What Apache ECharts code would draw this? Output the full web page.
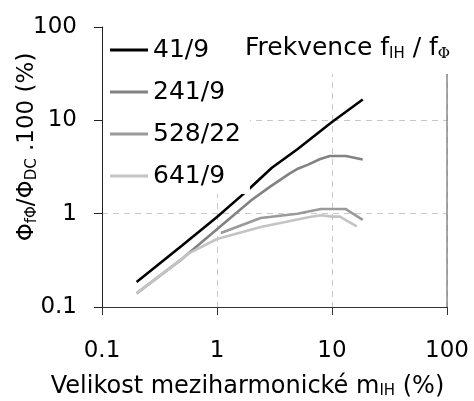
<!DOCTYPE html>
<html>
<head>
<meta charset="utf-8">
<script src="https://cdn.jsdelivr.net/npm/echarts@6/dist/echarts.min.js"></script>
<style>
  html, body { margin: 0; padding: 0; background: #fff; }
  #chart { width: 474px; height: 401px; }
</style>
</head>
<body>
<div id="chart"></div>
<script>
// Interharmonic flux ratio versus interharmonic magnitude (log-log)
const seriesNames = ['41/9', '241/9', '528/22', '641/9'];
const seriesColors = ['#000000', '#828282', '#9a9a9a', '#c4c4c4'];

// m_IH (%) and flux ratio (%) for each frequency ratio
const x41 = [0.2, 0.5, 1, 1.74, 1.93, 3, 5, 10, 18.5];
const y41 = [0.185, 0.46, 0.92, 1.67, 1.87, 3.1, 4.9, 9.6, 16.7];

const x241 = [0.2, 0.5, 1, 2, 2.9, 4.3, 5.1, 6.2, 7.9, 9.6, 13.2, 18.5];
const y241 = [0.14, 0.33, 0.68, 1.4, 1.95, 2.7, 3.05, 3.35, 3.85, 4.15, 4.15, 3.8];

const x528 = [1.08, 2.4, 5, 8, 13.2, 18.5];
const y528 = [0.62, 0.9, 1.0, 1.12, 1.12, 0.86];

const x641 = [0.2, 0.58, 1, 2.4, 6.4, 8, 10, 11.7, 16.4];
const y641 = [0.14, 0.38, 0.535, 0.72, 0.92, 0.96, 0.93, 0.93, 0.73];

const axisTicks = [0.1, 1, 10, 100];

const FONT = 'DejaVu Sans, sans-serif';
const zip = (xs, ys) => xs.map((x, i) => [x, ys[i]]);
const allX = [x41, x241, x528, x641];
const allY = [y41, y241, y528, y641];

const fmt = v => (v < 1 ? Number(v).toFixed(1) : String(Math.round(v)));

const chart = echarts.init(document.getElementById('chart'), null, { renderer: 'canvas' });

chart.setOption({
  animation: false,
  backgroundColor: '#fff',
  textStyle: { fontFamily: FONT },
  grid: { left: 102, right: 27, top: 27, bottom: 94, containLabel: false, outerBoundsMode: 'none' },
  title: {
    left: 245,
    top: 35,
    padding: 0,
    text: '{a|Frekvence f}{s|IH}{a| / f}{p|Φ}',
    textStyle: {
      fontWeight: 'normal',
      rich: {
        a: { fontSize: 25, fontFamily: FONT, color: '#000', fontWeight: 'normal' },
        s: { fontSize: 15, fontFamily: FONT, color: '#000', fontWeight: 'normal', padding: [12, 0, 0, 0] },
        p: { fontSize: 15, fontFamily: 'DejaVu Serif, serif', color: '#000', fontWeight: 'normal', padding: [12, 0, 0, 0] }
      }
    }
  },
  // white legend box sits over the upper-left corner of the plot
  legend: {
    orient: 'vertical',
    left: 103,
    top: 37,
    padding: [0, 9, 5, 7],
    icon: 'rect',
    itemWidth: 38,
    itemHeight: 3,
    itemGap: 16,
    backgroundColor: '#fff',
    textStyle: { fontSize: 25, fontFamily: FONT, color: '#000', lineHeight: 26 },
    data: seriesNames
  },
  graphic: [{
    type: 'rect',
    z: 1,
    shape: { x: 103.5, y: 0, width: 371, height: 74 },
    style: { fill: '#fff' }
  }],
  xAxis: {
    type: 'log',
    logBase: 10,
    min: axisTicks[0],
    max: axisTicks[axisTicks.length - 1],
    axisLine: { lineStyle: { color: '#333', width: 1 } },
    axisTick: { inside: false, length: 8, lineStyle: { color: '#333' } },
    axisLabel: { fontSize: 23, fontFamily: FONT, color: '#000', margin: 33, formatter: fmt },
    splitLine: { show: true, lineStyle: { color: '#c8c8c8', type: [6, 5], width: 1 } },
    name: '{a|Velikost meziharmonické m}{s|IH}{a| (%)}',
    nameLocation: 'middle',
    nameGap: 67,
    nameMoveOverlap: false,
    nameTextStyle: {
      padding: [0, 54, 0, 0],
      rich: {
        a: { fontSize: 24, fontFamily: FONT, color: '#000' },
        s: { fontSize: 15, fontFamily: FONT, color: '#000', padding: [10, 0, 0, 0] }
      }
    }
  },
  yAxis: [{
    type: 'log',
    logBase: 10,
    min: axisTicks[0],
    max: axisTicks[axisTicks.length - 1],
    axisLine: { lineStyle: { color: '#222', width: 1 } },
    axisTick: { inside: false, length: 8, lineStyle: { color: '#222' } },
    axisLabel: { fontSize: 23, fontFamily: FONT, color: '#000', margin: 25, formatter: fmt },
    splitLine: { show: true, lineStyle: { color: '#c8c8c8', type: [6, 5], width: 1 } },
    name: '{a|Φ}{s|fΦ}{a|/Φ}{s|DC}{a| .100 (%)}',
    nameLocation: 'middle',
    nameRotate: 90,
    nameGap: 62,
    nameMoveOverlap: false,
    nameTextStyle: {
      padding: [0, 0, 0, 40],
      rich: {
        a: { fontSize: 23, fontFamily: FONT, color: '#000' },
        s: { fontSize: 15, fontFamily: FONT, color: '#000', padding: [10, 0, 0, 0] }
      }
    }
  }, {
    type: 'log',
    logBase: 10,
    position: 'right',
    min: axisTicks[0],
    max: axisTicks[axisTicks.length - 1],
    axisLine: { show: true, lineStyle: { color: '#8a8a8a', width: 1.5 } },
    axisTick: { show: false },
    axisLabel: { show: false },
    splitLine: { show: false }
  }],
  series: seriesNames.map((name, i) => ({
    name,
    type: 'line',
    yAxisIndex: 0,
    symbol: 'none',
    z: 2,
    color: seriesColors[i],
    lineStyle: { color: seriesColors[i], width: 2.6 },
    data: zip(allX[i], allY[i])
  }))
});
</script>
</body>
</html>
